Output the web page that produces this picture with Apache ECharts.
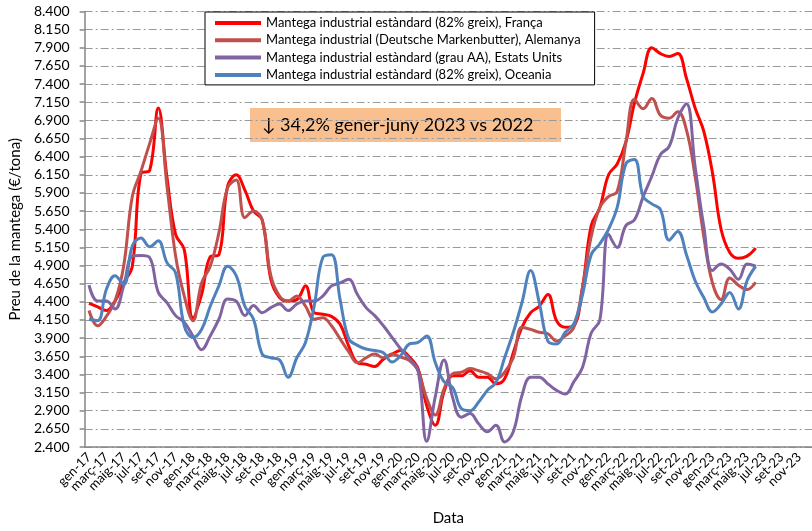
<!DOCTYPE html>
<html>
<head>
<meta charset="utf-8">
<script src="https://cdn.jsdelivr.net/npm/echarts@6/dist/echarts.min.js"></script>
<style>
html, body {margin: 0; padding: 0; background: #fff;}
#chart {width: 812px; height: 531px;}
</style>
</head>
<body>
<div id="chart"></div>
<script>
// mesos en català, etiquetes "gen-17" ... "des-23"
var monthNames = ['gen', 'febr', 'març', 'abr', 'maig', 'juny', 'jul', 'ag', 'set', 'oct', 'nov', 'des'];
var years = ['17', '18', '19', '20', '21', '22', '23'];

// preus en €/tona, gen-17 a juny-23
var franca = [4380,4330,4280,4410,4660,4890,6170,6210,7070,6120, 5330,5120,4180,4500,5020,5050,5990,6150,5940,5650,
  5530,4710,4460,4410,4430,4620,4250,4230,4200,4090, 3790,3560,3540,3510,3610,3680,3730,3640,3480,2970,
  2700,3160,3380,3380,3450,3360,3360,3270,3340,3700, 4050,4250,4340,4500,4140,4050,4070,4600,5450,5700,
  6150,6300,6600,7140,7550,7900,7820,7780,7820,7480, 7070,6750,6180,5400,5080,5000,5030,5140];
var alemanya = [4280,4070,4200,4410,4890,5850,6200,6580,6930,6000, 5030,4480,4140,4660,4890,5350,5970,6080,5560,5650,
  5530,4760,4480,4410,4480,4340,4160,4180,4070,3890, 3710,3560,3630,3680,3630,3680,3640,3590,3450,3070,
  2840,3200,3410,3430,3480,3450,3410,3340,3430,3630, 4050,4020,3980,3960,3860,3930,4050,4600,5300,5700,
  5850,5920,6590,7190,7060,7200,6970,6930,7020,6770, 6130,5300,4660,4430,4730,4630,4570,4670];
var estatsUnits = [4630,4410,4410,4300,4620,5030,5040,5010,4530,4390, 4210,4120,3930,3740,3930,4160,4440,4410,4210,4350,
  4250,4320,4370,4280,4370,4410,4410,4480,4620,4660, 4710,4500,4320,4210,4070,3910,3750,3610,3450,2480,
  3100,3600,3080,2810,2860,2720,2610,2700,2470,2610, 3110,3360,3360,3270,3180,3130,3300,3500,3970,4150,
  5330,5150,5450,5530,5850,6130,6430,6540,6930,7130, 6260,5440,4830,4920,4850,4710,4920,4890];
var oceania = [4160,4140,4570,4760,4640,5170,5280,5160,5240,4940, 4800,4070,3910,4020,4340,4620,4890,4760,4340,4160,
  3680,3630,3600,3360,3630,3840,4340,5010,5050,4430, 3890,3800,3750,3730,3700,3570,3660,3820,3840,3930,
  3560,3300,3220,2930,2900,3020,3180,3290,3630,3980, 4390,4830,4390,3860,3820,3980,4100,4500,5050,5200,
  5400,5700,6300,6360,5850,5750,5670,5250,5370,5050, 4690,4460,4260,4370,4530,4300,4690,4890];

var seriesNames = [
  'Mantega industrial estàndard (82% greix), França',
  'Mantega industrial (Deutsche Markenbutter), Alemanya',
  'Mantega industrial estàndard (grau AA), Estats Units',
  'Mantega industrial estàndard (82% greix), Oceania'
];
var colors = ['#FF0000', '#C0504D', '#8064A2', '#4F81BD'];
var yMin = 2400, yMax = 8400, yStep = 250;

var categories = [];
for (var y = 0; y < years.length; y++) {
  for (var m = 0; m < 12; m++) categories.push(monthNames[m] + '-' + years[y]);
}

var font = 'Lato, "Open Sans", sans-serif';
var chart = echarts.init(document.getElementById('chart'));

var allData = [franca, alemanya, estatsUnits, oceania];
var series = allData.map(function (d, i) {
  return {
    name: seriesNames[i],
    type: 'line',
    data: d,
    smooth: 0.4,
    showSymbol: false,
    symbol: 'none',
    lineStyle: {width: 3, color: colors[i]},
    itemStyle: {color: colors[i]}
  };
});

chart.setOption({
  animation: false,
  textStyle: {fontFamily: font},
  grid: {left: 82, right: -6, top: 11.5, bottom: 82.5},
  legend: {
    orient: 'vertical',
    left: 205,
    top: 12,
    icon: 'rect',
    itemWidth: 46,
    itemHeight: 4,
    itemGap: 3.3,
    padding: [4, 14, 3, 10],
    borderColor: '#000',
    borderWidth: 1,
    backgroundColor: '#fff',
    textStyle: {fontSize: 13, color: '#000', lineHeight: 14, fontFamily: font},
    data: seriesNames
  },
  graphic: [{
    type: 'group',
    left: 250,
    top: 108,
    children: [
      {type: 'rect', shape: {x: 0, y: 0, width: 311, height: 34}, style: {fill: '#FABF8F'}},
      {type: 'text', x: 12, y: 17, style: {text: '↓ 34,2% gener-juny 2023 vs 2022', font: '18px ' + font, fill: '#000', verticalAlign: 'middle'}}
    ]
  }],
  xAxis: {
    type: 'category',
    data: categories,
    boundaryGap: true,
    name: 'Data',
    nameLocation: 'middle',
    nameGap: 64,
    nameTextStyle: {fontSize: 15, color: '#000'},
    axisLine: {lineStyle: {color: '#868686', width: 1.5}},
    axisTick: {interval: 1, length: 5, lineStyle: {color: '#868686', width: 1.5}},
    axisLabel: {
      interval: 0, rotate: 45, margin: 8, fontSize: 13, color: '#000',
      showMinLabel: true, showMaxLabel: true, hideOverlap: false,
      // una etiqueta cada dos mesos
      formatter: function (v, idx) { return idx % 2 === 0 ? v : ''; }
    },
    splitLine: {show: false}
  },
  yAxis: {
    type: 'value',
    min: yMin,
    max: yMax,
    interval: yStep,
    name: 'Preu de la mantega (€/tona)',
    nameLocation: 'middle',
    nameGap: 60,
    nameTextStyle: {fontSize: 15, color: '#000'},
    axisLine: {show: true, lineStyle: {color: '#868686', width: 1.5}},
    axisTick: {show: true, length: 5, lineStyle: {color: '#868686', width: 1.5}},
    axisLabel: {
      fontSize: 14, color: '#000', margin: 15,
      formatter: function (v) { return (v / 1000).toFixed(3); }
    },
    splitLine: {lineStyle: {color: '#9a9a9a', width: 1, type: [8, 3, 2, 3]}}
  },
  series: series
});
</script>
</body>
</html>
